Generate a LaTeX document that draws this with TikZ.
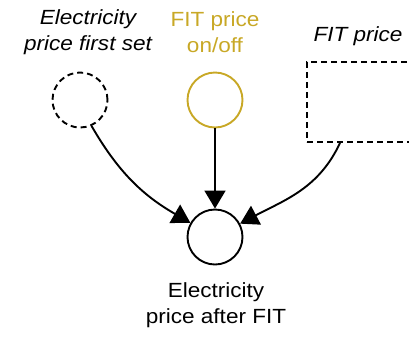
\documentclass[tikz,border=0pt]{standalone}
\usepackage{graphicx}
\usepackage{fontspec}
\setmainfont{Liberation Sans}
\usetikzlibrary{arrows.meta}
\definecolor{gold}{RGB}{200,168,38}
\newcommand\hs[1]{\scalebox{1.1}[1]{#1}}
\begin{document}
\begin{tikzpicture}[x=1pt,y=-1pt,
  var/.style={circle,draw,line width=1.9pt,minimum size=55pt,inner sep=0pt},
  lbl/.style={align=center,font=\fontsize{20.5}{26}\selectfont,inner sep=0pt},
  conn/.style={line width=1.9pt,-{Triangle[length=18pt,width=21pt]}},
  dsh/.style={dash pattern=on 6pt off 4pt}]
\useasboundingbox (0,0) rectangle (409,338);
\clip (0,0) rectangle (409,338);
\node[var,dsh] (e1) at (80,100) {};
\node[var,draw=gold] (f1) at (215,100) {};
\node[draw,line width=1.9pt,dsh,minimum width=120pt,minimum height=80pt,inner sep=0pt] (fp) at (367,102) {};
\node[var] (e2) at (215,237) {};
\node[lbl,font=\fontsize{20.5}{26}\selectfont\itshape] (t1) at (88,32) {\hs{Electricity}\\\hs{price first set}};
\node[lbl,text=gold] (t2) at (215,32) {\hs{FIT price}\\\hs{on/off}};
\node[lbl,font=\fontsize{20.5}{26}\selectfont\itshape] (t3) at (358,36) {\hs{FIT price}};
\node[lbl] (t4) at (216,305) {\hs{Electricity}\\\hs{price after FIT}};
\draw[conn] (e1.-66) to[out=-60,in=150] (e2.150);
\draw[conn] (f1) -- (e2);
\draw[conn] ([xshift=-27pt]fp.south) to[out=-115,in=28] (e2.28);
\end{tikzpicture}
\end{document}
